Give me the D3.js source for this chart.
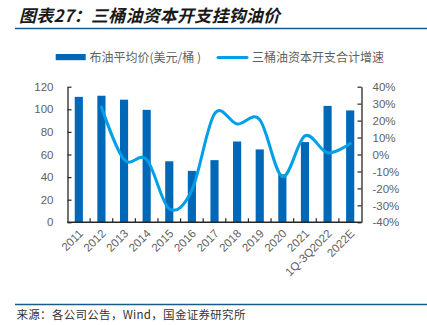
<!DOCTYPE html>
<html>
<head>
<meta charset="utf-8">
<script src="https://cdn.jsdelivr.net/npm/d3@7"></script>
<style>
  html, body { margin: 0; padding: 0; background: #fff; }
  svg { display: block; }
  .cjk { font-family: "Noto Sans CJK SC", "Noto Sans", sans-serif; }
  .num { font-family: "Liberation Sans", Arial, sans-serif; }
</style>
</head>
<body>
<svg id="chart" width="427" height="325"></svg>
<script>
// Categories (years) and the two series
const categories = ["2011","2012","2013","2014","2015","2016","2017","2018","2019","2020","2021","1Q-3Q2022","2022E"];
const brentPrice = [111, 112, 108.5, 99.5, 54, 45.5, 55, 71.5, 64.5, 42.5, 71, 103, 99];
// Combined capex growth of the three oil majors (%); no value for 2011
const capexGrowth = [null, 28, -3, -3, -32, -21, 24, 18, 20.5, -13, 11, 1, 6.5];
const leftTicks = [0, 20, 40, 60, 80, 100, 120];
const rightTicks = [-40, -30, -20, -10, 0, 10, 20, 30, 40];

const titleText = "图表27：三桶油资本开支挂钩油价";
const legendBar = "布油平均价(美元/桶 )";
const legendLine = "三桶油资本开支合计增速";
const sourceText = "来源：各公司公告，Wind，国金证券研究所";

const barColor = "#0068B7";
const lineColor = "#00A0E9";
const axisColor = "#262626";
const labelColor = "#5f5f5f";

const svg = d3.select("#chart");

// Plot area
const plot = { left: 67.5, right: 361.5, top: 86.7, bottom: 222.3 };

const x = d3.scaleBand()
  .domain(categories)
  .range([plot.left, plot.right])
  .paddingInner(0.64)
  .paddingOuter(0.32);

const yL = d3.scaleLinear().domain([0, 120]).range([plot.bottom, plot.top]);
const yR = d3.scaleLinear().domain([-40, 40]).range([plot.bottom, plot.top]);

// Header: title and rule
svg.append("text")
  .attr("class", "cjk")
  .attr("x", 19).attr("y", 21.5)
  .attr("font-size", 17)
  .attr("font-weight", "bold")
  .attr("font-style", "italic")
  .attr("letter-spacing", 0.2)
  .attr("fill", "#1a1a1a")
  .text(titleText);
svg.append("line")
  .attr("x1", 15).attr("x2", 427).attr("y1", 28.5).attr("y2", 28.5)
  .attr("stroke", "#1B5A87").attr("stroke-width", 1.6);

// Legend
const lg = svg.append("g");
lg.append("rect").attr("x", 55.7).attr("y", 54).attr("width", 30).attr("height", 6.2).attr("fill", barColor);
lg.append("text").attr("class", "cjk")
  .attr("x", 89.5).attr("y", 61.6)
  .attr("font-size", 12).attr("fill", labelColor)
  .text(legendBar);
lg.append("line").attr("x1", 218).attr("x2", 247).attr("y1", 57.4).attr("y2", 57.4)
  .attr("stroke", lineColor).attr("stroke-width", 3).attr("stroke-linecap", "round");
lg.append("text").attr("class", "cjk")
  .attr("x", 252).attr("y", 61.6)
  .attr("font-size", 12).attr("fill", labelColor)
  .text(legendLine);

// Bars
svg.append("g")
  .selectAll("rect")
  .data(categories.map((c, i) => ({ c, v: brentPrice[i] })))
  .join("rect")
  .attr("x", d => x(d.c))
  .attr("width", x.bandwidth())
  .attr("y", d => yL(d.v))
  .attr("height", d => yL(0) - yL(d.v))
  .attr("fill", barColor);

// Capex growth line (smoothed)
const linePts = categories
  .map((c, i) => ({ c, v: capexGrowth[i] }))
  .filter(d => d.v !== null);
const line = d3.line()
  .x(d => x(d.c) + x.bandwidth() / 2)
  .y(d => yR(d.v))
  .curve(d3.curveCardinal.tension(0));
svg.append("path")
  .datum(linePts)
  .attr("d", line)
  .attr("fill", "none")
  .attr("stroke", lineColor)
  .attr("stroke-width", 3)
  .attr("stroke-linecap", "round")
  .attr("stroke-linejoin", "round");

// Left axis
const leftAxis = d3.axisLeft(yL)
  .tickValues(leftTicks)
  .tickSizeInner(-4)
  .tickSizeOuter(0)
  .tickPadding(14)
  .tickFormat(d3.format("d"));
const gL = svg.append("g")
  .attr("transform", `translate(${plot.left},0)`)
  .call(leftAxis);

// Right axis
const rightAxis = d3.axisRight(yR)
  .tickValues(rightTicks)
  .tickSizeInner(-4)
  .tickSizeOuter(0)
  .tickPadding(11)
  .tickFormat(d => d + "%");
const gR = svg.append("g")
  .attr("transform", `translate(${plot.right},0)`)
  .call(rightAxis);

[gL, gR].forEach(g => {
  g.select(".domain").attr("stroke", axisColor).attr("stroke-width", 1.3);
  g.selectAll(".tick line").attr("stroke", axisColor).attr("stroke-width", 1.2);
  g.selectAll(".tick text")
    .attr("class", "num")
    .attr("font-size", 11.5)
    .attr("fill", labelColor);
});

// Bottom axis: baseline, tick marks on category boundaries, rotated labels
const gB = svg.append("g");
gB.append("line")
  .attr("x1", plot.left).attr("x2", plot.right)
  .attr("y1", yL(0)).attr("y2", yL(0))
  .attr("stroke", axisColor).attr("stroke-width", 1.6);
const boundaries = d3.range(1, categories.length).map(i => plot.left + i * x.step());
gB.selectAll("line.tk")
  .data(boundaries)
  .join("line")
  .attr("class", "tk")
  .attr("x1", d => d).attr("x2", d => d)
  .attr("y1", yL(0)).attr("y2", yL(0) - 4)
  .attr("stroke", axisColor).attr("stroke-width", 1.2);
gB.selectAll("text")
  .data(categories)
  .join("text")
  .attr("class", "num")
  .attr("font-size", 11.5)
  .attr("fill", labelColor)
  .attr("text-anchor", "end")
  .attr("transform", c => `translate(${x(c) + x.bandwidth() / 2 + 5},${yL(0) + 12}) rotate(-45)`)
  .text(c => c);

// Footer: rule and source
svg.append("line")
  .attr("x1", 15).attr("x2", 427).attr("y1", 304.5).attr("y2", 304.5)
  .attr("stroke", "#1B5A87").attr("stroke-width", 1.4);
svg.append("text")
  .attr("class", "cjk")
  .attr("x", 16.5).attr("y", 319)
  .attr("font-size", 11.5)
  .attr("letter-spacing", 0.3)
  .attr("fill", "#333")
  .text(sourceText);
</script>
</body>
</html>
